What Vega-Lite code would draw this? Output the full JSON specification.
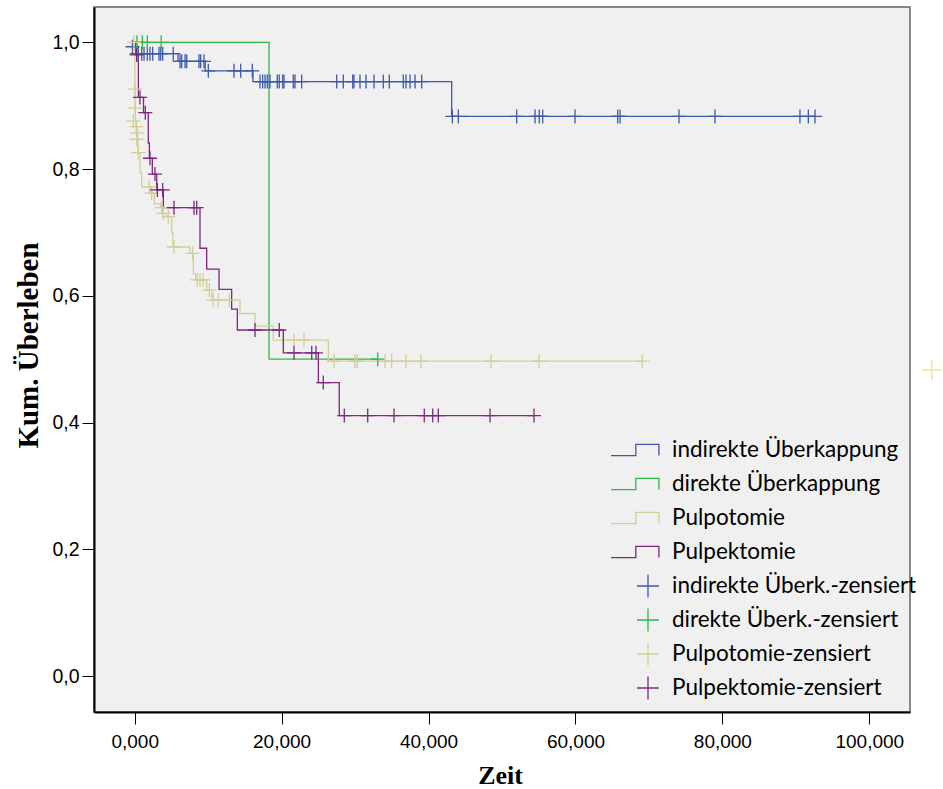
{
  "$schema": "https://vega.github.io/schema/vega-lite/v6.json",
  "width": 816,
  "height": 705,
  "autosize": {"type": "none"},
  "padding": {"left": 94, "top": 7, "right": 33, "bottom": 77},
  "background": "white",
  "config": {
    "view": {"fill": "#f0f0f0", "stroke": "#666666", "strokeWidth": 1.5},
    "legend": {
      "orient": "none",
      "legendX": 524,
      "legendY": 426,
      "symbolSize": 1056,
      "labelFont": "Lato",
      "labelFontSize": 22.5,
      "labelColor": "#000000",
      "labelOffset": 20,
      "rowPadding": 2,
      "padding": 0,
      "labelLimit": 400
    }
  },
  "datasets": {
    "curves": [
      {"label": "indirekte Überkappung", "x": 0, "y": 1.0},
      {"label": "indirekte Überkappung", "x": 0.1, "y": 0.993},
      {"label": "indirekte Überkappung", "x": 0.2, "y": 0.982},
      {"label": "indirekte Überkappung", "x": 5.9, "y": 0.970},
      {"label": "indirekte Überkappung", "x": 9.6, "y": 0.955},
      {"label": "indirekte Überkappung", "x": 16.1, "y": 0.938},
      {"label": "indirekte Überkappung", "x": 43.15, "y": 0.883},
      {"label": "indirekte Überkappung", "x": 92.61, "y": 0.883},
      {"label": "direkte Überkappung", "x": 0, "y": 1.0},
      {"label": "direkte Überkappung", "x": 18.28, "y": 0.5},
      {"label": "direkte Überkappung", "x": 33.08, "y": 0.5},
      {"label": "Pulpotomie", "x": 0, "y": 1.0},
      {"label": "Pulpotomie", "x": 0.02, "y": 0.95},
      {"label": "Pulpotomie", "x": 0.03, "y": 0.926},
      {"label": "Pulpotomie", "x": 0.05, "y": 0.896},
      {"label": "Pulpotomie", "x": 0.1, "y": 0.876},
      {"label": "Pulpotomie", "x": 0.2, "y": 0.867},
      {"label": "Pulpotomie", "x": 0.3, "y": 0.857},
      {"label": "Pulpotomie", "x": 0.4, "y": 0.847},
      {"label": "Pulpotomie", "x": 0.45, "y": 0.826},
      {"label": "Pulpotomie", "x": 0.72, "y": 0.794},
      {"label": "Pulpotomie", "x": 0.95, "y": 0.772},
      {"label": "Pulpotomie", "x": 2.2, "y": 0.762},
      {"label": "Pulpotomie", "x": 2.67, "y": 0.745},
      {"label": "Pulpotomie", "x": 3.5, "y": 0.739},
      {"label": "Pulpotomie", "x": 3.8, "y": 0.730},
      {"label": "Pulpotomie", "x": 4.3, "y": 0.725},
      {"label": "Pulpotomie", "x": 5.04, "y": 0.699},
      {"label": "Pulpotomie", "x": 5.2, "y": 0.677},
      {"label": "Pulpotomie", "x": 7.5, "y": 0.667},
      {"label": "Pulpotomie", "x": 7.98, "y": 0.635},
      {"label": "Pulpotomie", "x": 8.3, "y": 0.625},
      {"label": "Pulpotomie", "x": 9.8, "y": 0.609},
      {"label": "Pulpotomie", "x": 10.5, "y": 0.593},
      {"label": "Pulpotomie", "x": 14.33, "y": 0.572},
      {"label": "Pulpotomie", "x": 16.38, "y": 0.552},
      {"label": "Pulpotomie", "x": 18.87, "y": 0.530},
      {"label": "Pulpotomie", "x": 26.36, "y": 0.497},
      {"label": "Pulpotomie", "x": 69.1, "y": 0.497},
      {"label": "Pulpektomie", "x": 0, "y": 1.0},
      {"label": "Pulpektomie", "x": 0.15, "y": 0.98},
      {"label": "Pulpektomie", "x": 0.5, "y": 0.913},
      {"label": "Pulpektomie", "x": 1.2, "y": 0.889},
      {"label": "Pulpektomie", "x": 1.85, "y": 0.841},
      {"label": "Pulpektomie", "x": 2.0, "y": 0.817},
      {"label": "Pulpektomie", "x": 2.4, "y": 0.792},
      {"label": "Pulpektomie", "x": 3.0, "y": 0.767},
      {"label": "Pulpektomie", "x": 3.9, "y": 0.739},
      {"label": "Pulpektomie", "x": 8.89, "y": 0.675},
      {"label": "Pulpektomie", "x": 9.8, "y": 0.642},
      {"label": "Pulpektomie", "x": 11.48, "y": 0.610},
      {"label": "Pulpektomie", "x": 13.2, "y": 0.579},
      {"label": "Pulpektomie", "x": 13.97, "y": 0.546},
      {"label": "Pulpektomie", "x": 20.23, "y": 0.510},
      {"label": "Pulpektomie", "x": 25.0, "y": 0.463},
      {"label": "Pulpektomie", "x": 27.85, "y": 0.411},
      {"label": "Pulpektomie", "x": 54.36, "y": 0.411}
    ],
    "censor": [
      {"label": "indirekte Überk.-zensiert", "x": -0.3, "y": 0.993},
      {"label": "indirekte Überk.-zensiert", "x": 0.27, "y": 0.982},
      {"label": "indirekte Überk.-zensiert", "x": 0.49, "y": 0.982},
      {"label": "indirekte Überk.-zensiert", "x": 0.95, "y": 0.982},
      {"label": "indirekte Überk.-zensiert", "x": 1.27, "y": 0.982},
      {"label": "indirekte Überk.-zensiert", "x": 1.72, "y": 0.982},
      {"label": "indirekte Überk.-zensiert", "x": 2.08, "y": 0.982},
      {"label": "indirekte Überk.-zensiert", "x": 2.45, "y": 0.982},
      {"label": "indirekte Überk.-zensiert", "x": 3.31, "y": 0.982},
      {"label": "indirekte Überk.-zensiert", "x": 3.54, "y": 0.982},
      {"label": "indirekte Überk.-zensiert", "x": 3.81, "y": 0.982},
      {"label": "indirekte Überk.-zensiert", "x": 5.25, "y": 0.982},
      {"label": "indirekte Überk.-zensiert", "x": 6.17, "y": 0.970},
      {"label": "indirekte Überk.-zensiert", "x": 6.4, "y": 0.970},
      {"label": "indirekte Überk.-zensiert", "x": 6.85, "y": 0.970},
      {"label": "indirekte Überk.-zensiert", "x": 7.08, "y": 0.970},
      {"label": "indirekte Überk.-zensiert", "x": 8.75, "y": 0.970},
      {"label": "indirekte Überk.-zensiert", "x": 8.98, "y": 0.970},
      {"label": "indirekte Überk.-zensiert", "x": 9.43, "y": 0.970},
      {"label": "indirekte Überk.-zensiert", "x": 10.02, "y": 0.955},
      {"label": "indirekte Überk.-zensiert", "x": 13.52, "y": 0.955},
      {"label": "indirekte Überk.-zensiert", "x": 14.43, "y": 0.955},
      {"label": "indirekte Überk.-zensiert", "x": 16.01, "y": 0.955},
      {"label": "indirekte Überk.-zensiert", "x": 17.06, "y": 0.938},
      {"label": "indirekte Überk.-zensiert", "x": 17.42, "y": 0.938},
      {"label": "indirekte Überk.-zensiert", "x": 17.74, "y": 0.938},
      {"label": "indirekte Überk.-zensiert", "x": 18.05, "y": 0.938},
      {"label": "indirekte Überk.-zensiert", "x": 18.42, "y": 0.938},
      {"label": "indirekte Überk.-zensiert", "x": 19.41, "y": 0.938},
      {"label": "indirekte Überk.-zensiert", "x": 19.68, "y": 0.938},
      {"label": "indirekte Überk.-zensiert", "x": 20.15, "y": 0.938},
      {"label": "indirekte Überk.-zensiert", "x": 20.32, "y": 0.938},
      {"label": "indirekte Überk.-zensiert", "x": 21.59, "y": 0.938},
      {"label": "indirekte Überk.-zensiert", "x": 21.82, "y": 0.938},
      {"label": "indirekte Überk.-zensiert", "x": 22.73, "y": 0.938},
      {"label": "indirekte Überk.-zensiert", "x": 27.5, "y": 0.938},
      {"label": "indirekte Überk.-zensiert", "x": 28.4, "y": 0.938},
      {"label": "indirekte Überk.-zensiert", "x": 29.68, "y": 0.938},
      {"label": "indirekte Überk.-zensiert", "x": 29.85, "y": 0.938},
      {"label": "indirekte Überk.-zensiert", "x": 30.67, "y": 0.938},
      {"label": "indirekte Überk.-zensiert", "x": 31.49, "y": 0.938},
      {"label": "indirekte Überk.-zensiert", "x": 32.58, "y": 0.938},
      {"label": "indirekte Überk.-zensiert", "x": 33.84, "y": 0.938},
      {"label": "indirekte Überk.-zensiert", "x": 34.66, "y": 0.938},
      {"label": "indirekte Überk.-zensiert", "x": 36.56, "y": 0.938},
      {"label": "indirekte Überk.-zensiert", "x": 36.93, "y": 0.938},
      {"label": "indirekte Überk.-zensiert", "x": 37.48, "y": 0.938},
      {"label": "indirekte Überk.-zensiert", "x": 38.16, "y": 0.938},
      {"label": "indirekte Überk.-zensiert", "x": 39.07, "y": 0.938},
      {"label": "indirekte Überk.-zensiert", "x": 43.24, "y": 0.883},
      {"label": "indirekte Überk.-zensiert", "x": 44.05, "y": 0.883},
      {"label": "indirekte Überk.-zensiert", "x": 52.0, "y": 0.883},
      {"label": "indirekte Überk.-zensiert", "x": 54.5, "y": 0.883},
      {"label": "indirekte Überk.-zensiert", "x": 55.08, "y": 0.883},
      {"label": "indirekte Überk.-zensiert", "x": 55.54, "y": 0.883},
      {"label": "indirekte Überk.-zensiert", "x": 59.94, "y": 0.883},
      {"label": "indirekte Überk.-zensiert", "x": 65.75, "y": 0.883},
      {"label": "indirekte Überk.-zensiert", "x": 66.07, "y": 0.883},
      {"label": "indirekte Überk.-zensiert", "x": 74.09, "y": 0.883},
      {"label": "indirekte Überk.-zensiert", "x": 78.99, "y": 0.883},
      {"label": "indirekte Überk.-zensiert", "x": 90.56, "y": 0.883},
      {"label": "indirekte Überk.-zensiert", "x": 91.7, "y": 0.883},
      {"label": "indirekte Überk.-zensiert", "x": 92.61, "y": 0.883},
      {"label": "direkte Überk.-zensiert", "x": 0.31, "y": 1.0},
      {"label": "direkte Überk.-zensiert", "x": 1.03, "y": 1.0},
      {"label": "direkte Überk.-zensiert", "x": 1.72, "y": 1.0},
      {"label": "direkte Überk.-zensiert", "x": 3.6, "y": 1.0},
      {"label": "direkte Überk.-zensiert", "x": 33.08, "y": 0.5},
      {"label": "Pulpotomie-zensiert", "x": -0.1, "y": 1.0},
      {"label": "Pulpotomie-zensiert", "x": 0.04, "y": 0.926},
      {"label": "Pulpotomie-zensiert", "x": 0.04, "y": 0.896},
      {"label": "Pulpotomie-zensiert", "x": -0.19, "y": 0.876},
      {"label": "Pulpotomie-zensiert", "x": 0.2, "y": 0.867},
      {"label": "Pulpotomie-zensiert", "x": 0.35, "y": 0.857},
      {"label": "Pulpotomie-zensiert", "x": 0.27, "y": 0.847},
      {"label": "Pulpotomie-zensiert", "x": 0.49, "y": 0.826},
      {"label": "Pulpotomie-zensiert", "x": 1.99, "y": 0.772},
      {"label": "Pulpotomie-zensiert", "x": 2.31, "y": 0.762},
      {"label": "Pulpotomie-zensiert", "x": 3.68, "y": 0.739},
      {"label": "Pulpotomie-zensiert", "x": 3.9, "y": 0.730},
      {"label": "Pulpotomie-zensiert", "x": 4.57, "y": 0.725},
      {"label": "Pulpotomie-zensiert", "x": 5.35, "y": 0.677},
      {"label": "Pulpotomie-zensiert", "x": 7.9, "y": 0.667},
      {"label": "Pulpotomie-zensiert", "x": 8.52, "y": 0.625},
      {"label": "Pulpotomie-zensiert", "x": 8.89, "y": 0.625},
      {"label": "Pulpotomie-zensiert", "x": 9.3, "y": 0.625},
      {"label": "Pulpotomie-zensiert", "x": 10.16, "y": 0.609},
      {"label": "Pulpotomie-zensiert", "x": 10.7, "y": 0.593},
      {"label": "Pulpotomie-zensiert", "x": 11.38, "y": 0.593},
      {"label": "Pulpotomie-zensiert", "x": 12.88, "y": 0.593},
      {"label": "Pulpotomie-zensiert", "x": 21.69, "y": 0.530},
      {"label": "Pulpotomie-zensiert", "x": 23.05, "y": 0.530},
      {"label": "Pulpotomie-zensiert", "x": 27.13, "y": 0.497},
      {"label": "Pulpotomie-zensiert", "x": 29.99, "y": 0.497},
      {"label": "Pulpotomie-zensiert", "x": 30.3, "y": 0.497},
      {"label": "Pulpotomie-zensiert", "x": 34.07, "y": 0.497},
      {"label": "Pulpotomie-zensiert", "x": 34.98, "y": 0.497},
      {"label": "Pulpotomie-zensiert", "x": 36.93, "y": 0.497},
      {"label": "Pulpotomie-zensiert", "x": 38.97, "y": 0.497},
      {"label": "Pulpotomie-zensiert", "x": 48.5, "y": 0.497},
      {"label": "Pulpotomie-zensiert", "x": 55.04, "y": 0.497},
      {"label": "Pulpotomie-zensiert", "x": 69.1, "y": 0.497},
      {"label": "Pulpektomie-zensiert", "x": 0.27, "y": 0.98},
      {"label": "Pulpektomie-zensiert", "x": 0.72, "y": 0.913},
      {"label": "Pulpektomie-zensiert", "x": 1.44, "y": 0.889},
      {"label": "Pulpektomie-zensiert", "x": 2.08, "y": 0.817},
      {"label": "Pulpektomie-zensiert", "x": 2.76, "y": 0.792},
      {"label": "Pulpektomie-zensiert", "x": 3.08, "y": 0.767},
      {"label": "Pulpektomie-zensiert", "x": 3.81, "y": 0.767},
      {"label": "Pulpektomie-zensiert", "x": 5.35, "y": 0.739},
      {"label": "Pulpektomie-zensiert", "x": 8.07, "y": 0.739},
      {"label": "Pulpektomie-zensiert", "x": 8.44, "y": 0.739},
      {"label": "Pulpektomie-zensiert", "x": 16.38, "y": 0.546},
      {"label": "Pulpektomie-zensiert", "x": 19.68, "y": 0.546},
      {"label": "Pulpektomie-zensiert", "x": 21.69, "y": 0.510},
      {"label": "Pulpektomie-zensiert", "x": 24.1, "y": 0.510},
      {"label": "Pulpektomie-zensiert", "x": 24.68, "y": 0.510},
      {"label": "Pulpektomie-zensiert", "x": 25.67, "y": 0.463},
      {"label": "Pulpektomie-zensiert", "x": 28.53, "y": 0.411},
      {"label": "Pulpektomie-zensiert", "x": 31.72, "y": 0.411},
      {"label": "Pulpektomie-zensiert", "x": 35.3, "y": 0.411},
      {"label": "Pulpektomie-zensiert", "x": 39.42, "y": 0.411},
      {"label": "Pulpektomie-zensiert", "x": 40.57, "y": 0.411},
      {"label": "Pulpektomie-zensiert", "x": 41.33, "y": 0.411},
      {"label": "Pulpektomie-zensiert", "x": 48.37, "y": 0.411},
      {"label": "Pulpektomie-zensiert", "x": 54.36, "y": 0.411}
    ],
    "stray": [
      {"x": 108.5, "y": 0.483}
    ]
  },
  "encoding": {
    "x": {
      "field": "x",
      "type": "quantitative",
      "scale": {"domain": [-5.54, 105.54], "nice": false, "zero": false},
      "axis": {
        "title": "Zeit",
        "values": [0, 20, 40, 60, 80, 100],
        "labelExpr": "replace(format(datum.value, '.3f'), '.', ',')",
        "grid": false,
        "domainColor": "#000000",
        "domainWidth": 2,
        "tickColor": "#000000",
        "tickSize": 12,
        "tickWidth": 1,
        "labelFont": "Liberation Sans",
        "labelFontSize": 19,
        "labelColor": "#000000",
        "labelPadding": 8,
        "titleFont": "Liberation Serif",
        "titleFontWeight": "bold",
        "titleFontSize": 26,
        "titleColor": "#000000",
        "titleBaseline": "middle",
        "titleX": 406,
        "titleY": 63
      }
    },
    "y": {
      "field": "y",
      "type": "quantitative",
      "scale": {"domain": [-0.0568, 1.0557], "nice": false, "zero": false},
      "axis": {
        "title": "Kum. Überleben",
        "values": [0, 0.2, 0.4, 0.6, 0.8, 1.0],
        "labelExpr": "replace(format(datum.value, '.1f'), '.', ',')",
        "grid": false,
        "domainColor": "#000000",
        "domainWidth": 2,
        "tickColor": "#000000",
        "tickSize": 12,
        "tickWidth": 1,
        "labelFont": "Liberation Sans",
        "labelFontSize": 19.5,
        "labelColor": "#000000",
        "labelPadding": 3,
        "titleFont": "Liberation Serif",
        "titleFontWeight": "bold",
        "titleFontSize": 29,
        "titleColor": "#000000",
        "titleBaseline": "middle",
        "titleX": -66,
        "titleY": 338
      }
    },
    "color": {
      "field": "label",
      "type": "nominal",
      "scale": {
        "domain": ["indirekte Überkappung", "direkte Überkappung", "Pulpotomie", "Pulpektomie", "indirekte Überk.-zensiert", "direkte Überk.-zensiert", "Pulpotomie-zensiert", "Pulpektomie-zensiert"],
        "range": ["#3E58AC", "#2EB848", "#D3CE97", "#7C287D", "#3E58AC", "#2EB848", "#D3CE97", "#7C287D"]
      },
      "legend": {
        "title": null,
        "encode": {
          "symbols": {
            "update": {
              "shape": {"signal": "indexof(datum.value, 'zensiert') >= 0 ? 'M 0.124 0 H 1.472 M 0.8 -0.705 V 0.705' : 'M 0 -0.705 M 0 0.705 M -1.472 0.342 H 0.05 V -0.342 H 1.472 V 0.342'"},
              "stroke": {"scale": "color", "field": "value"},
              "fill": {"value": "transparent"},
              "strokeWidth": {"value": 1.3},
              "opacity": {"value": 1}
            }
          }
        }
      }
    }
  },
  "layer": [
    {
      "data": {"name": "curves"},
      "mark": {"type": "line", "interpolate": "step-after", "strokeWidth": 1.3, "clip": true}
    },
    {
      "data": {"name": "censor"},
      "mark": {"type": "point", "shape": "M -1 0 H 1 M 0 -1 V 1", "size": 196, "filled": false, "strokeWidth": 1.3, "opacity": 1, "clip": true}
    },
    {
      "data": {"name": "stray"},
      "mark": {"type": "point", "shape": "M -1 0 H 1 M 0 -1 V 1", "size": 400, "filled": false, "strokeWidth": 1.3, "opacity": 1, "clip": false},
      "encoding": {"color": {"value": "#F2E27A"}}
    }
  ]
}
